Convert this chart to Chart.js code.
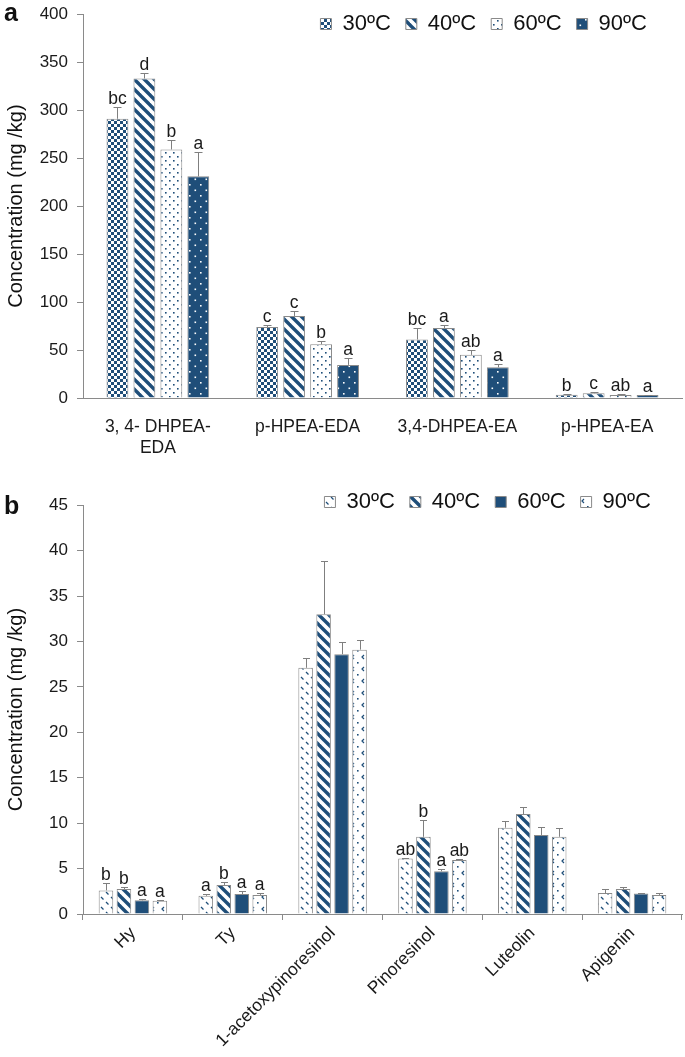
<!DOCTYPE html>
<html>
<head>
<meta charset="utf-8">
<script src="https://cdn.jsdelivr.net/npm/chart.js@4.4.1/dist/chart.umd.min.js"></script>
<style>
  body { margin: 0; background: #fff; }
  #wrap { position: relative; width: 685px; height: 1057px; overflow: hidden; }
  canvas { position: absolute; left: 0; }
  .panel { position: absolute; left: 4px; font: bold 25px/25px 'Liberation Sans', Arial, sans-serif; color: #111; }
</style>
</head>
<body>
<div id="wrap">
  <canvas id="chartA" width="685" height="490" style="top:-5px"></canvas>
  <canvas id="chartB" width="685" height="571" style="top:486px"></canvas>
  <div class="panel" style="top:0">a</div>
  <div class="panel" style="top:493px">b</div>
</div>
<script>
// panel a: secoiridoids
const catsA = [['3, 4- DHPEA-', 'EDA'], 'p-HPEA-EDA', '3,4-DHPEA-EA', 'p-HPEA-EA'];
const temps = ['30ºC', '40ºC', '60ºC', '90ºC'];
const a30 = [291, 74, 61, 3.5];
const a40 = [333, 85.5, 73, 5];
const a60 = [259, 56, 45, 3];
const a90 = [231, 34.5, 32, 3];
const a30err = [12, 2, 12, 1];
const a40err = [6, 5.5, 3.5, 1.5];
const a60err = [10, 3, 5.5, 1];
const a90err = [25, 7, 3.5, 0.5];
const a30let = ['bc', 'c', 'bc', 'b'];
const a40let = ['d', 'c', 'a', 'c'];
const a60let = ['b', 'b', 'ab', 'ab'];
const a90let = ['a', 'a', 'a', 'a'];
const ticksA = [0, 400, 50];

// panel b: phenols, lignans, flavonoids
const catsB = ['Hy', 'Ty', '1-acetoxypinoresinol', 'Pinoresinol', 'Luteolin', 'Apigenin'];
const b30 = [2.6, 2.0, 27.1, 6.1, 9.5, 2.3];
const b40 = [2.75, 3.2, 33.0, 8.5, 11.0, 2.75];
const b60 = [1.5, 2.2, 28.6, 4.7, 8.7, 2.25];
const b90 = [1.45, 2.1, 29.1, 5.95, 8.5, 2.1];
const b30err = [0.8, 0.2, 1.1, 0.1, 0.7, 0.5];
const b40err = [0.25, 0.35, 5.9, 1.9, 0.8, 0.2];
const b60err = [0.1, 0.3, 1.3, 0.3, 0.9, 0.05];
const b90err = [0.1, 0.2, 1.1, 0.1, 1.0, 0.25];
const b30let = ['b', 'a', '', 'ab', '', ''];
const b40let = ['b', 'b', '', 'b', '', ''];
const b60let = ['a', 'a', '', 'a', '', ''];
const b90let = ['a', 'a', '', 'ab', '', ''];
const ticksB = [0, 45, 5];

const navy = '#1f4e79';
const edge = '#8a8a8a';
const ink = '#1a1a1a';
const family = "'Liberation Sans', Arial, sans-serif";

Chart.defaults.font.family = family;
Chart.defaults.color = ink;

function tile(w, h, paint) {
    const c = document.createElement('canvas');
    c.width = w;
    c.height = h;
    const g = c.getContext('2d');
    paint(g, w, h);
    return g.createPattern(c, 'repeat');
}

const checker = tile(6, 6, (g) => {
    g.fillStyle = '#fff'; g.fillRect(0, 0, 6, 6);
    g.fillStyle = navy; g.fillRect(0, 0, 3, 3); g.fillRect(3, 3, 3, 3);
});
const stripes = tile(10, 10, (g) => {
    g.fillStyle = '#fff'; g.fillRect(0, 0, 10, 10);
    g.strokeStyle = navy; g.lineWidth = 3.4;
    for (const o of [-10, 0, 10]) {
        g.beginPath(); g.moveTo(o - 2, -2); g.lineTo(o + 12, 12); g.stroke();
    }
});
const navyDots = tile(8, 8, (g) => {
    g.fillStyle = '#fff'; g.fillRect(0, 0, 8, 8);
    g.fillStyle = navy; g.fillRect(1, 1, 1.6, 1.6); g.fillRect(5, 5, 1.6, 1.6);
});
const whiteDots = tile(11, 11, (g) => {
    g.fillStyle = navy; g.fillRect(0, 0, 11, 11);
    g.fillStyle = '#fff'; g.fillRect(2, 2, 1.6, 1.6); g.fillRect(7.5, 7.5, 1.6, 1.6);
});
const dashes = tile(10, 10, (g) => {
    g.fillStyle = '#fff'; g.fillRect(0, 0, 10, 10);
    g.strokeStyle = navy; g.lineWidth = 1.3;
    g.beginPath(); g.moveTo(1, 1); g.lineTo(3.5, 3.5); g.moveTo(6, 6); g.lineTo(8.5, 8.5); g.stroke();
});
const chevrons = tile(10, 12, (g) => {
    g.fillStyle = '#fff'; g.fillRect(0, 0, 10, 12);
    g.strokeStyle = navy; g.lineWidth = 1.2;
    g.beginPath(); g.moveTo(4, 1); g.lineTo(2, 3); g.lineTo(4, 5); g.stroke();
    g.fillStyle = navy; g.fillRect(7, 8, 1.6, 1.6);
});

// error bars + significance letters, positioned through the y scale
const errorBars = {
    id: 'errorBars',
    afterDatasetsDraw(chart, args, opts) {
        const ctx = chart.ctx;
        const yScale = chart.scales.y;
        ctx.save();
        chart.data.datasets.forEach((ds, i) => {
            const meta = chart.getDatasetMeta(i);
            meta.data.forEach((bar, j) => {
                const x = Math.round(bar.x) + 0.5;
                const top = Math.round(yScale.getPixelForValue(ds.data[j] + ds.errors[j])) + 0.5;
                ctx.strokeStyle = '#7f7f7f';
                ctx.lineWidth = 1;
                ctx.beginPath();
                ctx.moveTo(x, bar.y);
                ctx.lineTo(x, top);
                ctx.moveTo(x - opts.cap, top);
                ctx.lineTo(x + opts.cap, top);
                ctx.stroke();
                if (ds.letters[j]) {
                    ctx.fillStyle = ink;
                    ctx.font = opts.size + 'px ' + family;
                    ctx.textAlign = 'center';
                    ctx.textBaseline = 'alphabetic';
                    ctx.fillText(ds.letters[j], bar.x, top - 4);
                }
            });
        });
        ctx.restore();
    }
};

// legend sits over the plot, like the original
const legendPlace = {
    id: 'legendPlace',
    afterLayout(chart, args, opts) {
        const lg = chart.legend;
        lg.top = opts.centerY - opts.padding - opts.fontSize / 2;
        lg.bottom = lg.top + opts.padding * 2 + opts.fontSize + 6;
        lg.right = opts.right;
    }
};

function makeSets(values, errors, letters, fills) {
    return temps.map((t, i) => ({
        label: t,
        data: values[i],
        errors: errors[i],
        letters: letters[i],
        backgroundColor: fills[i],
        borderColor: edge,
        borderWidth: 1,
        categoryPercentage: 0.72,
        barPercentage: 0.81
    }));
}

function makeOptions(tk, xTicks, xHeight, legendY, legendRight, cap) {
    return {
        responsive: false,
        animation: false,
        events: [],
        layout: { padding: { left: 0, right: 3, top: 8, bottom: 0 } },
        plugins: {
            tooltip: { enabled: false },
            legend: {
                position: 'top',
                align: 'end',
                maxHeight: 1,
                labels: { boxWidth: 11, boxHeight: 11, padding: 15, font: { size: 22 }, color: '#111' }
            },
            legendPlace: { centerY: legendY, right: legendRight, padding: 15, fontSize: 22 },
            errorBars: { cap: cap, size: 17.5 }
        },
        scales: {
            x: Object.assign({
                border: { color: edge },
                afterFit: (s) => { s.height = xHeight; }
            }, xTicks),
            y: {
                min: tk[0],
                max: tk[1],
                ticks: { stepSize: tk[2], padding: 9, font: { size: 17 } },
                grid: { drawOnChartArea: false, tickLength: 6, color: edge },
                border: { color: edge },
                title: {
                    display: true,
                    text: 'Concentration (mg /kg)',
                    font: { size: 20 },
                    color: '#111',
                    padding: { top: 4, bottom: 0 }
                },
                afterFit: (s) => { s.width = 83; }
            }
        }
    };
}

const chartA = new Chart(document.getElementById('chartA'), { // eslint-disable-line
    type: 'bar',
    data: {
        labels: catsA,
        datasets: makeSets([a30, a40, a60, a90], [a30err, a40err, a60err, a90err],
            [a30let, a40let, a60let, a90let], [checker, stripes, navyDots, whiteDots])
    },
    options: makeOptions(ticksA, {
        grid: { display: false },
        ticks: { maxRotation: 0, minRotation: 0, autoSkip: false, padding: 11, font: { size: 17.5 } }
    }, 87, 29, 662, 4),
    plugins: [errorBars, legendPlace]
});

const chartB = new Chart(document.getElementById('chartB'), { // eslint-disable-line
    type: 'bar',
    data: {
        labels: catsB,
        datasets: makeSets([b30, b40, b60, b90], [b30err, b40err, b60err, b90err],
            [b30let, b40let, b60let, b90let], [dashes, stripes, navy, chevrons])
    },
    options: makeOptions(ticksB, {
        grid: { drawOnChartArea: false, tickLength: 6, color: edge },
        ticks: { maxRotation: 45, minRotation: 45, autoSkip: false, padding: 3, font: { size: 17.5 } }
    }, 143, 16, 666, 3.5),
    plugins: [errorBars, legendPlace]
});
</script>
</body>
</html>
